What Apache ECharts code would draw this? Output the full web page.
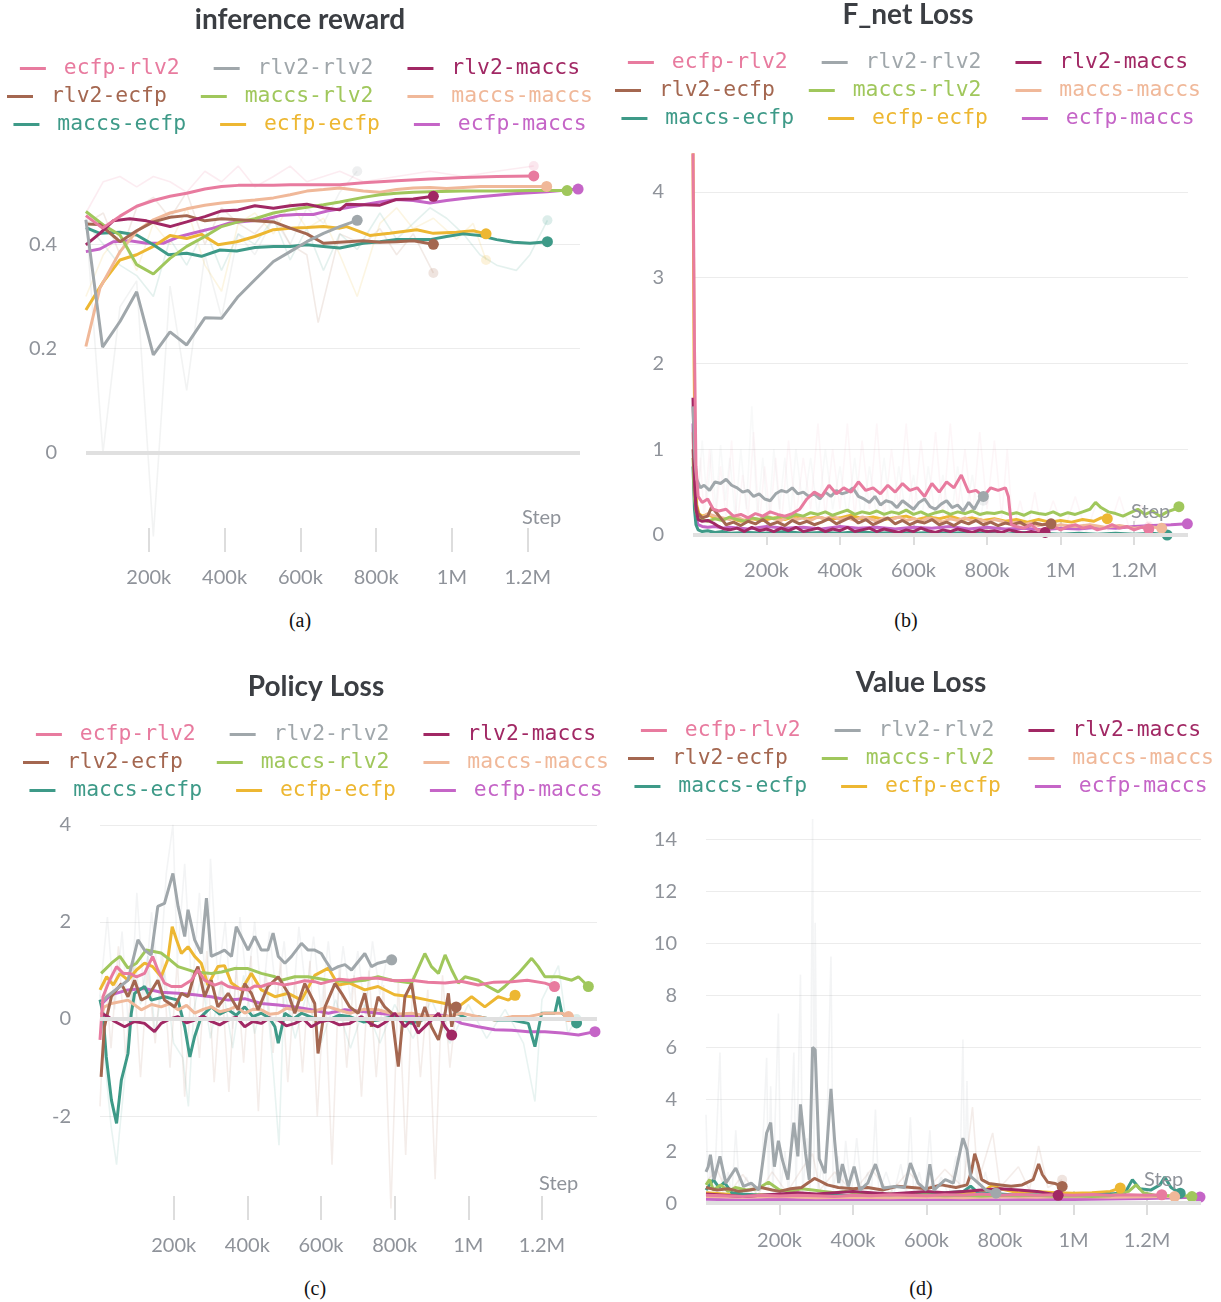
<!DOCTYPE html>
<html>
<head>
<meta charset="utf-8">
<script src="https://cdn.jsdelivr.net/npm/echarts@6/dist/echarts.min.js"></script>
<style>
    body { margin: 0; background: #fff; width: 1221px; height: 1302px; position: relative; overflow: hidden; }
    .echarts { position: absolute; }
    .cap { position: absolute; font-family: 'Liberation Serif', serif; font-size: 20px; color: #111; transform: translateX(-50%); }
</style>
</head>
<body>
<div id="reward" class="echarts" style="left:0;top:0;width:600px;height:600px"></div>
<div id="fnet" class="echarts" style="left:610px;top:0;width:596px;height:600px"></div>
<div id="policy" class="echarts" style="left:6px;top:660px;width:620px;height:600px"></div>
<div id="value" class="echarts" style="left:626px;top:660px;width:590px;height:600px"></div>
<div class="cap" style="left:300px;top:609px">(a)</div>
<div class="cap" style="left:906px;top:609px">(b)</div>
<div class="cap" style="left:315px;top:1277px">(c)</div>
<div class="cap" style="left:921px;top:1277px">(d)</div>

<script>
// runs, in legend order
const runNames = ['ecfp-rlv2', 'rlv2-rlv2', 'rlv2-maccs', 'rlv2-ecfp', 'maccs-rlv2', 'maccs-maccs', 'maccs-ecfp', 'ecfp-ecfp', 'ecfp-maccs'];
const runColors = ['#E87B9F', '#A0A7AB', '#A12864', '#A46750', '#A0C75C', '#F0B899', '#3E9A88', '#EDB732', '#C565C7'];

// x axis ticks (steps in thousands)
const stepTicks = [200, 400, 600, 800, 1000, 1200];
const stepLabels = ['200k', '400k', '600k', '800k', '1M', '1.2M'];

const rewardTicks = [0, 0.2, 0.4];
const fnetTicks = [0, 1, 2, 3, 4];
const policyTicks = [-2, 0, 2, 4];
const valueTicks = [0, 2, 4, 6, 8, 10, 12, 14];

// ---- (a) inference reward, [step k, value] ----
const rewardEcfpRlv2 = [[34,0.455],[78,0.431],[124,0.454],[168,0.473],[212,0.484],[256,0.492],[300,0.498],[348,0.506],[392,0.511],[436,0.513],[480,0.513],[529,0.513],[573,0.514],[617,0.514],[661,0.514],[704,0.514],[766,0.518],[854,0.522],[942,0.525],[1030,0.528],[1118,0.530],[1216,0.531]];
const rewardRlv2Rlv2 = [[34,0.447],[78,0.203],[124,0.252],[168,0.309],[212,0.188],[256,0.232],[300,0.207],[348,0.259],[392,0.258],[436,0.300],[480,0.332],[529,0.367],[573,0.386],[617,0.405],[661,0.421],[704,0.434],[750,0.446]];
const rewardRlv2Maccs = [[34,0.399],[71,0.421],[106,0.445],[150,0.449],[194,0.445],[256,0.434],[300,0.443],[348,0.453],[392,0.464],[436,0.466],[480,0.474],[529,0.469],[573,0.474],[617,0.477],[661,0.470],[704,0.466],[722,0.477],[766,0.476],[810,0.475],[854,0.486],[898,0.487],[951,0.492]];
const rewardRlv2Ecfp = [[34,0.439],[71,0.438],[124,0.405],[168,0.426],[212,0.443],[256,0.452],[300,0.455],[348,0.445],[392,0.449],[436,0.447],[480,0.445],[529,0.443],[573,0.431],[617,0.420],[661,0.402],[704,0.404],[766,0.407],[810,0.404],[854,0.405],[898,0.407],[951,0.400]];
const rewardMaccsRlv2 = [[34,0.463],[80,0.437],[124,0.418],[168,0.361],[212,0.343],[256,0.373],[300,0.396],[348,0.415],[392,0.434],[436,0.443],[480,0.449],[529,0.460],[573,0.466],[617,0.471],[661,0.476],[704,0.481],[766,0.490],[810,0.495],[854,0.498],[898,0.500],[942,0.501],[1030,0.502],[1118,0.502],[1206,0.503],[1304,0.503]];
const rewardMaccsMaccs = [[34,0.204],[71,0.316],[124,0.386],[168,0.425],[212,0.447],[256,0.460],[300,0.468],[348,0.475],[392,0.479],[436,0.482],[480,0.485],[529,0.489],[573,0.495],[617,0.502],[661,0.505],[704,0.508],[766,0.502],[810,0.500],[854,0.505],[898,0.508],[942,0.509],[986,0.507],[1030,0.509],[1074,0.511],[1162,0.511],[1250,0.511]];
const rewardMaccsEcfp = [[34,0.432],[71,0.421],[124,0.423],[168,0.418],[212,0.399],[252,0.380],[300,0.383],[339,0.377],[388,0.389],[432,0.387],[480,0.394],[529,0.396],[573,0.396],[617,0.399],[661,0.396],[704,0.393],[766,0.402],[810,0.405],[854,0.409],[898,0.409],[942,0.409],[986,0.415],[1030,0.420],[1074,0.417],[1118,0.409],[1162,0.404],[1206,0.402],[1252,0.405]];
const rewardEcfpEcfp = [[34,0.274],[80,0.328],[124,0.370],[168,0.380],[212,0.396],[256,0.417],[300,0.411],[339,0.419],[383,0.399],[432,0.405],[480,0.415],[529,0.428],[573,0.431],[617,0.432],[661,0.434],[704,0.431],[722,0.434],[783,0.417],[836,0.421],[907,0.428],[951,0.421],[1012,0.423],[1056,0.426],[1090,0.420]];
const rewardEcfpMaccs = [[34,0.386],[71,0.391],[106,0.405],[150,0.407],[194,0.402],[238,0.402],[282,0.415],[326,0.423],[370,0.431],[414,0.441],[458,0.444],[502,0.447],[546,0.455],[590,0.457],[634,0.457],[678,0.465],[722,0.470],[766,0.476],[810,0.481],[854,0.486],[898,0.484],[942,0.479],[986,0.484],[1030,0.488],[1074,0.491],[1118,0.494],[1162,0.497],[1206,0.499],[1250,0.501],[1333,0.506]];
// unsmoothed runs (faint)
const rewardRawEcfpRlv2 = [[34,0.46],[80,0.52],[124,0.53],[168,0.51],[212,0.53],[256,0.52],[300,0.50],[348,0.54],[392,0.52],[436,0.55],[480,0.51],[529,0.53],[573,0.55],[617,0.52],[661,0.53],[704,0.54],[766,0.52],[854,0.53],[942,0.54],[1030,0.53],[1118,0.54],[1216,0.55]];
const rewardRawRlv2Rlv2 = [[34,0.45],[79,0.0],[124,0.28],[168,0.33],[212,-0.16],[256,0.32],[300,0.12],[348,0.38],[392,0.26],[436,0.42],[480,0.38],[529,0.45],[573,0.40],[617,0.47],[661,0.44],[704,0.50],[750,0.54]];
const rewardRawRlv2Ecfp = [[34,0.44],[80,0.46],[124,0.38],[168,0.47],[212,0.49],[256,0.45],[300,0.50],[348,0.40],[392,0.47],[436,0.44],[480,0.42],[529,0.46],[573,0.40],[617,0.38],[647,0.25],[704,0.42],[766,0.40],[810,0.43],[854,0.38],[898,0.42],[951,0.345]];
const rewardRawMaccsEcfp = [[34,0.44],[80,0.40],[124,0.36],[168,0.34],[212,0.30],[256,0.41],[300,0.36],[348,0.43],[392,0.35],[436,0.42],[480,0.40],[529,0.45],[573,0.37],[617,0.43],[661,0.35],[704,0.42],[750,0.39],[810,0.46],[854,0.41],[898,0.44],[942,0.47],[986,0.45],[1030,0.42],[1074,0.38],[1118,0.36],[1170,0.35],[1206,0.38],[1252,0.446]];
const rewardRawEcfpEcfp = [[34,0.30],[80,0.38],[124,0.42],[168,0.35],[212,0.44],[256,0.40],[300,0.47],[348,0.36],[392,0.31],[436,0.44],[480,0.46],[529,0.42],[573,0.48],[617,0.43],[661,0.45],[704,0.38],[750,0.30],[810,0.44],[854,0.47],[898,0.43],[951,0.45],[1012,0.41],[1056,0.44],[1090,0.37]];

// ---- (b) F_net loss ----
const fnetEcfpRlv2 = [[0,4.45],[4,2.2],[8,0.8],[14,0.45],[25,0.38],[40,0.42],[55,0.30],[70,0.28],[90,0.30],[110,0.22],[130,0.24],[150,0.20],[170,0.25],[190,0.22],[210,0.27],[230,0.24],[250,0.22],[270,0.25],[290,0.30],[310,0.42],[330,0.50],[350,0.45],[370,0.58],[390,0.48],[410,0.55],[430,0.50],[450,0.62],[470,0.52],[490,0.55],[510,0.48],[530,0.58],[550,0.50],[570,0.60],[590,0.52],[610,0.55],[630,0.45],[650,0.60],[670,0.50],[690,0.62],[710,0.55],[730,0.70],[750,0.50],[770,0.52],[790,0.45],[810,0.55],[830,0.52],[850,0.55],[858,0.45],[866,0.12],[880,0.10],[900,0.08],[920,0.12],[940,0.05],[960,0.08],[980,0.10],[1000,0.06],[1020,0.10],[1040,0.12],[1060,0.08],[1080,0.10],[1100,0.06],[1120,0.08],[1140,0.12],[1160,0.08],[1180,0.10],[1200,0.06],[1220,0.09],[1240,0.07]];
const fnetRlv2Rlv2 = [[0,1.5],[5,0.9],[10,0.65],[20,0.55],[30,0.58],[45,0.52],[60,0.62],[75,0.60],[90,0.65],[105,0.58],[120,0.55],[135,0.50],[150,0.52],[165,0.45],[180,0.48],[195,0.42],[210,0.40],[225,0.48],[240,0.52],[255,0.50],[270,0.55],[285,0.48],[300,0.50],[315,0.45],[330,0.48],[345,0.42],[360,0.50],[375,0.45],[390,0.52],[405,0.48],[420,0.50],[435,0.55],[450,0.45],[465,0.42],[480,0.38],[495,0.45],[510,0.35],[525,0.40],[540,0.38],[555,0.32],[570,0.40],[585,0.35],[600,0.30],[615,0.38],[630,0.42],[645,0.33],[660,0.30],[675,0.36],[690,0.40],[705,0.32],[720,0.35],[735,0.28],[750,0.38],[765,0.30],[780,0.42],[790,0.45]];
const fnetRlv2Maccs = [[0,1.6],[4,0.7],[8,0.3],[14,0.18],[25,0.16],[40,0.17],[55,0.14],[70,0.10],[85,0.07],[100,0.06],[120,0.08],[140,0.04],[160,0.09],[180,0.05],[200,0.07],[220,0.04],[240,0.08],[260,0.05],[280,0.09],[300,0.04],[320,0.06],[340,0.08],[360,0.04],[380,0.07],[400,0.05],[420,0.09],[440,0.04],[460,0.06],[480,0.08],[500,0.04],[520,0.07],[540,0.05],[560,0.03],[580,0.06],[600,0.04],[620,0.08],[640,0.05],[660,0.03],[680,0.06],[700,0.04],[720,0.07],[740,0.05],[760,0.03],[780,0.06],[800,0.04],[820,0.05],[840,0.03],[860,0.06],[880,0.04],[900,0.02],[920,0.04],[940,0.02],[958,0.03]];
const fnetRlv2Ecfp = [[0,1.0],[4,0.6],[8,0.35],[14,0.25],[25,0.2],[40,0.22],[50,0.32],[60,0.28],[75,0.2],[90,0.12],[110,0.15],[130,0.11],[150,0.16],[170,0.13],[190,0.18],[210,0.12],[230,0.15],[250,0.11],[270,0.17],[290,0.13],[310,0.16],[330,0.12],[350,0.15],[370,0.19],[390,0.13],[410,0.17],[430,0.21],[450,0.14],[470,0.18],[490,0.12],[510,0.16],[530,0.20],[550,0.13],[570,0.17],[590,0.12],[610,0.16],[630,0.14],[650,0.18],[670,0.12],[690,0.15],[710,0.11],[730,0.16],[750,0.13],[770,0.17],[790,0.12],[810,0.15],[830,0.11],[850,0.14],[870,0.12],[890,0.15],[910,0.10],[930,0.14],[950,0.12],[974,0.13]];
const fnetMaccsRlv2 = [[0,0.9],[4,0.45],[8,0.28],[14,0.2],[25,0.18],[40,0.16],[60,0.19],[80,0.17],[100,0.21],[120,0.18],[140,0.16],[160,0.2],[180,0.18],[200,0.21],[220,0.19],[240,0.22],[260,0.2],[280,0.24],[300,0.22],[320,0.26],[340,0.24],[360,0.27],[380,0.23],[400,0.26],[420,0.29],[440,0.24],[460,0.27],[480,0.25],[500,0.28],[520,0.24],[540,0.27],[560,0.25],[580,0.29],[600,0.24],[620,0.27],[640,0.23],[660,0.26],[680,0.28],[700,0.24],[720,0.27],[740,0.25],[760,0.28],[780,0.24],[800,0.26],[820,0.25],[840,0.27],[860,0.24],[880,0.26],[900,0.23],[920,0.27],[940,0.25],[960,0.24],[980,0.27],[1000,0.23],[1020,0.26],[1040,0.24],[1060,0.27],[1080,0.3],[1095,0.38],[1110,0.32],[1130,0.27],[1150,0.25],[1170,0.22],[1190,0.26],[1210,0.3],[1230,0.24],[1250,0.28],[1270,0.22],[1290,0.27],[1310,0.3],[1322,0.33]];
const fnetMaccsMaccs = [[0,1.2],[4,0.5],[8,0.3],[14,0.22],[25,0.2],[40,0.25],[60,0.22],[80,0.2],[100,0.18],[120,0.21],[140,0.17],[160,0.2],[180,0.18],[200,0.22],[220,0.19],[240,0.17],[260,0.21],[280,0.18],[300,0.2],[320,0.17],[340,0.21],[360,0.19],[380,0.22],[400,0.18],[420,0.2],[440,0.17],[460,0.21],[480,0.19],[500,0.16],[520,0.2],[540,0.18],[560,0.21],[580,0.17],[600,0.19],[620,0.16],[640,0.2],[660,0.18],[680,0.15],[700,0.19],[720,0.17],[740,0.2],[760,0.16],[780,0.18],[800,0.15],[820,0.18],[840,0.16],[860,0.13],[880,0.15],[900,0.12],[920,0.14],[940,0.11],[960,0.13],[980,0.1],[1000,0.12],[1040,0.1],[1080,0.12],[1120,0.09],[1160,0.11],[1200,0.08],[1240,0.1],[1275,0.08]];
const fnetMaccsEcfp = [[0,0.8],[4,0.3],[8,0.12],[14,0.06],[25,0.04],[40,0.05],[60,0.03],[80,0.04],[100,0.02],[150,0.03],[200,0.02],[250,0.04],[300,0.02],[350,0.03],[400,0.02],[450,0.04],[500,0.02],[550,0.03],[600,0.02],[650,0.03],[700,0.02],[750,0.03],[800,0.02],[850,0.01],[900,0.03],[950,0.02],[1000,0.01],[1050,0.02],[1100,0.01],[1150,0.02],[1200,0.01],[1250,0.02],[1290,0.0]];
const fnetEcfpEcfp = [[0,4.45],[3,2.0],[6,0.7],[10,0.35],[16,0.25],[25,0.22],[40,0.24],[60,0.2],[80,0.18],[100,0.2],[130,0.16],[160,0.19],[190,0.17],[220,0.2],[250,0.18],[280,0.22],[310,0.19],[340,0.21],[370,0.18],[400,0.2],[430,0.23],[460,0.19],[490,0.21],[520,0.18],[550,0.2],[580,0.22],[610,0.18],[640,0.21],[670,0.19],[700,0.22],[730,0.18],[760,0.2],[790,0.17],[820,0.19],[850,0.16],[880,0.18],[910,0.15],[940,0.18],[970,0.15],[1000,0.17],[1030,0.15],[1060,0.18],[1090,0.16],[1110,0.2],[1127,0.19]];
const fnetEcfpMaccs = [[0,1.3],[4,0.5],[8,0.2],[14,0.12],[25,0.1],[40,0.09],[60,0.1],[80,0.08],[100,0.09],[150,0.07],[200,0.1],[250,0.08],[300,0.09],[350,0.07],[400,0.1],[450,0.08],[500,0.09],[550,0.07],[600,0.09],[650,0.08],[700,0.1],[750,0.07],[800,0.09],[850,0.07],[900,0.08],[950,0.06],[1000,0.08],[1050,0.07],[1100,0.09],[1150,0.08],[1200,0.1],[1250,0.11],[1300,0.12],[1345,0.13]];
const fnetRawEcfpRlv2 = [[0,4.4],[10,0.3],[20,0.9],[30,0.2],[45,1.0],[60,0.1],[75,0.8],[90,0.2],[105,1.1],[120,0.1],[135,0.7],[150,0.2],[165,1.2],[180,0.1],[195,0.8],[210,0.2],[225,0.9],[240,0.1],[260,1.1],[280,0.2],[300,0.9],[320,0.3],[340,1.3],[360,0.2],[380,1.0],[400,0.3],[420,1.3],[440,0.2],[460,1.1],[480,0.3],[500,1.3],[520,0.2],[540,1.0],[560,0.3],[580,1.3],[600,0.2],[620,1.1],[640,0.3],[660,1.2],[680,0.2],[700,1.3],[720,0.3],[740,1.0],[760,0.2],[780,1.2],[800,0.3],[820,1.1],[840,0.2],[855,1.0],[870,0.05],[890,0.4],[910,0.05],[930,0.5],[950,0.02],[980,0.4],[1010,0.05],[1040,0.45],[1070,0.03],[1100,0.4],[1130,0.05],[1160,0.45],[1190,0.04],[1220,0.35],[1240,0.1]];
const fnetRawRlv2Rlv2 = [[0,1.5],[12,0.3],[25,1.1],[38,0.4],[50,1.0],[62,0.3],[75,1.05],[88,0.4],[100,0.9],[115,0.2],[130,1.0],[145,0.3],[160,1.5],[175,0.2],[190,0.9],[205,0.1],[220,1.0],[235,0.3],[250,0.9],[265,0.2],[280,1.0],[300,0.3],[320,0.9],[340,0.2],[360,1.0],[380,0.3],[400,0.8],[420,0.2],[440,0.9],[460,0.1],[480,0.8],[500,0.2],[520,0.9],[540,0.1],[560,0.8],[580,0.2],[600,0.7],[620,0.1],[640,0.8],[660,0.2],[680,0.7],[700,0.1],[720,0.8],[740,0.2],[760,0.7],[780,0.1],[790,0.4]];

// ---- (c) policy loss ----
const policyEcfpRlv2 = [[0,-0.43],[8,0.46],[26,0.80],[45,1.08],[63,0.94],[81,0.94],[99,0.87],[121,0.94],[143,1.29],[157,1.01],[175,0.74],[194,0.67],[221,0.67],[248,0.80],[266,1.01],[284,0.80],[311,0.70],[330,0.75],[348,0.67],[375,0.63],[402,0.60],[420,0.68],[438,0.67],[456,0.72],[475,0.74],[500,0.70],[529,0.74],[556,0.79],[583,0.77],[600,0.73],[620,0.77],[650,0.82],[678,0.80],[710,0.84],[755,0.84],[800,0.79],[846,0.80],[890,0.76],[937,0.74],[980,0.78],[1027,0.70],[1070,0.76],[1118,0.77],[1160,0.80],[1208,0.74],[1234,0.67]];
const policyRlv2Rlv2 = [[3,0.32],[18,0.46],[54,0.67],[76,0.80],[103,1.63],[121,1.42],[139,1.32],[157,2.32],[175,2.38],[198,3.00],[212,2.32],[230,1.70],[239,2.25],[257,1.63],[275,1.35],[289,2.49],[302,1.29],[320,1.35],[338,1.42],[357,1.29],[370,1.90],[388,1.63],[402,1.42],[420,1.70],[438,1.42],[456,1.42],[470,1.77],[484,1.29],[502,1.15],[520,1.29],[547,1.56],[565,1.42],[583,1.42],[601,1.35],[611,1.22],[629,1.01],[647,1.08],[665,1.12],[683,1.01],[719,1.35],[737,1.08],[755,1.15],[792,1.22]];
const policyRlv2Maccs = [[3,0.12],[21,0.05],[40,-0.05],[67,-0.16],[94,-0.05],[121,-0.09],[148,-0.26],[166,-0.09],[190,0.0],[212,0.05],[235,-0.08],[257,-0.02],[280,0.06],[302,-0.05],[325,-0.12],[348,-0.02],[370,0.04],[393,-0.16],[415,-0.05],[438,-0.09],[460,0.02],[484,-0.02],[506,-0.14],[529,-0.09],[552,0.0],[574,-0.16],[597,-0.06],[620,-0.02],[650,-0.12],[678,-0.09],[710,0.05],[735,-0.1],[755,-0.16],[780,-0.04],[800,0.12],[828,-0.16],[846,-0.02],[864,-0.29],[891,-0.09],[919,0.12],[937,-0.16],[955,-0.33]];
const policyRlv2Ecfp = [[3,-1.19],[12,-0.16],[31,0.46],[58,0.73],[76,0.46],[94,0.80],[112,0.39],[130,0.46],[157,0.80],[175,0.39],[203,0.25],[221,0.53],[239,0.46],[257,0.94],[266,1.08],[284,0.46],[302,0.80],[320,0.25],[348,0.53],[375,0.19],[393,0.73],[411,0.53],[429,0.19],[456,0.67],[484,0.87],[511,0.53],[529,0.12],[556,0.73],[583,0.32],[592,-0.71],[611,0.25],[638,0.73],[656,0.53],[678,0.25],[701,0.12],[719,0.53],[737,-0.16],[755,0.46],[773,0.25],[792,0.12],[810,-0.98],[828,0.46],[846,0.73],[864,-0.16],[882,0.25],[900,-0.16],[919,-0.43],[937,0.12],[946,0.53],[955,-0.16],[967,0.25]];
const policyMaccsRlv2 = [[3,0.94],[31,1.15],[54,1.29],[76,1.05],[99,1.15],[125,1.42],[166,1.36],[190,1.22],[212,1.08],[257,0.97],[302,0.94],[330,0.97],[366,1.04],[402,1.04],[438,0.94],[475,0.87],[493,0.80],[529,0.87],[565,0.87],[620,0.80],[678,0.77],[719,0.80],[755,0.87],[792,0.80],[846,0.74],[882,1.35],[900,1.08],[919,0.94],[937,1.32],[955,1.01],[973,0.74],[991,0.87],[1027,0.80],[1054,0.67],[1081,0.56],[1099,0.67],[1136,0.94],[1172,1.25],[1190,1.08],[1208,0.87],[1245,0.87],[1281,0.80],[1299,0.87],[1326,0.67]];
const policyMaccsMaccs = [[3,0.1],[12,0.25],[31,0.32],[76,0.39],[112,0.19],[140,0.3],[166,0.25],[190,0.32],[212,0.19],[235,0.28],[257,0.12],[280,0.2],[302,0.25],[325,0.15],[348,0.19],[370,0.26],[393,0.12],[415,0.2],[438,0.19],[460,0.1],[484,0.12],[506,0.22],[529,0.19],[575,0.15],[620,0.25],[650,0.18],[678,0.12],[715,0.2],[755,0.19],[800,0.1],[846,0.12],[890,0.06],[937,0.05],[982,0.12],[1027,0.05],[1072,-0.02],[1118,0.05],[1163,0.05],[1208,0.12],[1254,0.12],[1272,0.05]];
const policyMaccsEcfp = [[0,0.4],[8,0.12],[17,-0.78],[31,-1.67],[45,-2.15],[58,-1.26],[76,-0.71],[85,0.12],[94,0.53],[121,0.67],[139,0.39],[175,0.46],[212,0.39],[230,-0.16],[244,-0.78],[257,-0.36],[275,0.05],[302,0.25],[325,0.1],[348,0.19],[370,0.08],[393,0.25],[415,0.05],[438,0.12],[460,0.02],[475,-0.16],[484,-0.50],[502,0.12],[525,0.0],[547,0.12],[580,0.02],[620,-0.02],[650,0.08],[678,0.05],[715,-0.06],[755,-0.02],[800,0.06],[846,-0.09],[890,0.02],[937,-0.02],[967,0.12],[1000,0.0],[1027,0.05],[1072,-0.02],[1118,-0.02],[1163,-0.09],[1181,-0.57],[1199,0.12],[1235,0.12],[1245,0.46],[1254,0.12],[1294,-0.08]];
const policyEcfpEcfp = [[0,0.60],[18,0.87],[36,0.70],[54,0.94],[76,0.80],[99,1.01],[121,1.15],[143,1.08],[166,0.87],[184,1.22],[196,1.90],[208,1.63],[221,1.35],[239,1.49],[257,1.29],[275,1.15],[293,0.70],[320,1.08],[338,1.10],[357,0.74],[384,0.60],[411,0.94],[438,0.60],[475,0.46],[511,0.53],[547,0.39],[583,0.90],[620,1.05],[647,0.70],[678,0.74],[719,0.60],[755,0.67],[800,0.50],[846,0.46],[891,0.39],[937,0.32],[973,0.25],[1009,0.46],[1045,0.25],[1081,0.46],[1109,0.39],[1127,0.49]];
const policyEcfpMaccs = [[3,0.3],[30,0.5],[76,0.6],[121,0.63],[166,0.55],[212,0.53],[257,0.50],[302,0.46],[348,0.39],[393,0.42],[438,0.32],[484,0.29],[529,0.25],[574,0.19],[620,0.12],[665,0.19],[720,0.15],[755,0.12],[846,0.05],[937,0.08],[982,-0.09],[1027,-0.16],[1072,-0.22],[1118,-0.23],[1163,-0.26],[1208,-0.26],[1254,-0.29],[1299,-0.33],[1344,-0.26]];
const policyRawRlv2Rlv2 = [[0,0.5],[20,2.1],[40,0.2],[60,1.8],[80,-0.5],[100,2.6],[120,0.4],[140,2.2],[160,0.6],[180,3.0],[198,4.0],[210,1.2],[230,3.2],[250,0.5],[270,2.6],[290,0.3],[300,3.3],[320,0.8],[340,2.0],[360,-0.2],[380,2.1],[400,0.6],[420,2.0],[440,0.3],[460,1.8],[480,0.4],[500,1.6],[520,-0.1],[540,1.9],[560,0.5],[580,1.7],[600,0.2],[620,1.6],[640,0.0],[660,1.5],[680,0.4],[700,1.4],[720,0.1],[740,1.6],[760,0.5],[780,1.3],[792,1.2]];
const policyRawMaccsEcfp = [[0,0.5],[15,-1.0],[30,-2.2],[45,-3.0],[52,-2.4],[65,-1.4],[80,-0.2],[95,1.2],[110,0.3],[130,1.3],[150,-0.3],[175,1.0],[200,-0.5],[225,-0.8],[240,-1.8],[255,0.2],[275,0.9],[300,-0.4],[330,0.8],[360,-0.6],[390,0.9],[420,-0.3],[450,0.7],[470,-1.0],[486,-2.6],[500,0.6],[530,-0.4],[560,0.5],[600,-0.5],[640,0.4],[680,-0.6],[720,0.3],[760,-0.5],[800,0.3],[850,-0.4],[900,0.4],[950,-0.5],[1000,0.3],[1050,-0.4],[1100,0.2],[1150,-0.5],[1181,-1.7],[1200,0.4],[1245,1.1],[1270,-0.3],[1294,0.0]];
const policyRawRlv2Ecfp = [[0,-1.8],[15,0.8],[30,-0.6],[50,1.5],[70,-0.8],[90,1.2],[110,-1.2],[130,1.0],[150,-0.5],[170,1.3],[190,-1.0],[210,1.2],[230,-1.6],[250,1.0],[270,-0.8],[290,1.4],[310,-1.3],[330,0.8],[350,-1.5],[370,1.1],[390,-0.9],[410,1.3],[430,-1.9],[450,1.0],[470,-0.7],[490,1.2],[510,-1.3],[530,0.9],[550,-1.1],[570,1.2],[590,-2.0],[610,0.8],[630,-3.0],[650,1.1],[670,-1.0],[690,0.9],[710,-1.6],[730,1.0],[750,-1.2],[770,0.7],[790,-3.9],[810,0.8],[830,-2.8],[850,0.9],[870,-1.2],[890,0.6],[910,-3.3],[930,0.9],[950,-1.0],[967,0.2]];

// ---- (d) value loss ----
const valueEcfpRlv2 = [[0,0.3],[50,0.28],[100,0.25],[150,0.3],[200,0.27],[250,0.3],[300,0.28],[350,0.25],[400,0.3],[450,0.28],[500,0.32],[550,0.3],[600,0.28],[650,0.32],[700,0.3],[750,0.35],[800,0.3],[850,0.33],[900,0.3],[950,0.32],[1000,0.3],[1050,0.33],[1100,0.3],[1150,0.32],[1200,0.3],[1240,0.32]];
const valueRlv2Rlv2 = [[0,1.2],[6,1.4],[12,1.86],[22,0.9],[38,1.8],[54,0.77],[81,1.35],[102,0.64],[123,0.77],[144,0.5],[165,2.7],[176,3.1],[186,1.4],[197,2.4],[207,1.7],[223,0.9],[239,3.1],[250,1.8],[257,3.8],[271,1.9],[281,0.9],[290,6.0],[297,5.9],[308,1.7],[324,1.15],[340,4.4],[350,2.4],[361,0.77],[371,1.5],[387,0.64],[403,1.4],[419,0.5],[440,0.77],[461,1.5],[482,0.58],[514,0.64],[540,0.6],[556,1.54],[577,0.77],[599,0.5],[609,1.5],[620,0.5],[651,0.9],[673,0.77],[699,2.5],[710,2.05],[720,1.03],[741,0.77],[762,0.5],[789,0.38]];
const valueRlv2Maccs = [[0,0.35],[50,0.3],[100,0.25],[150,0.3],[200,0.35],[250,0.4],[300,0.35],[350,0.4],[400,0.45],[450,0.4],[500,0.35],[550,0.4],[600,0.45],[650,0.4],[700,0.45],[750,0.5],[800,0.55],[850,0.5],[900,0.45],[958,0.3]];
const valueRlv2Ecfp = [[0,0.6],[30,0.5],[60,0.55],[90,0.45],[120,0.5],[150,0.6],[180,0.5],[200,0.45],[230,0.55],[260,0.6],[280,0.8],[295,0.95],[310,0.85],[330,0.7],[360,0.6],[400,0.55],[440,0.6],[480,0.5],[520,0.65],[560,0.6],[600,0.55],[640,0.7],[680,0.6],[710,0.7],[722,1.2],[731,1.9],[740,1.5],[750,0.9],[770,0.75],[800,0.7],[830,0.65],[860,0.7],[890,0.9],[905,1.5],[915,1.1],[930,0.8],[950,0.75],[969,0.64]];
const valueMaccsRlv2 = [[0,0.7],[10,0.9],[20,0.5],[40,0.7],[60,0.45],[80,0.6],[110,0.5],[140,0.55],[170,0.8],[200,0.5],[230,0.45],[260,0.55],[290,0.5],[320,0.45],[350,0.4],[380,0.45],[420,0.35],[460,0.3],[500,0.35],[550,0.3],[600,0.32],[650,0.28],[700,0.3],[750,0.27],[800,0.3],[850,0.28],[900,0.3],[950,0.26],[1000,0.28],[1050,0.25],[1100,0.28],[1150,0.45],[1170,0.7],[1190,0.4],[1220,0.3],[1260,0.28],[1290,0.3],[1322,0.25]];
const valueMaccsMaccs = [[0,0.25],[100,0.22],[200,0.25],[300,0.2],[400,0.22],[500,0.2],[600,0.23],[700,0.2],[800,0.24],[900,0.22],[1000,0.25],[1100,0.22],[1200,0.24],[1275,0.25]];
const valueMaccsEcfp = [[0,0.5],[20,0.9],[35,0.6],[50,0.8],[70,0.4],[100,0.35],[150,0.3],[200,0.32],[250,0.3],[300,0.28],[350,0.3],[400,0.27],[450,0.3],[500,0.28],[550,0.3],[600,0.35],[650,0.4],[700,0.45],[720,0.65],[740,0.4],[800,0.35],[850,0.3],[900,0.32],[950,0.3],[1000,0.28],[1050,0.3],[1100,0.35],[1140,0.4],[1160,0.9],[1180,0.55],[1210,0.5],[1235,0.7],[1248,1.0],[1265,0.6],[1290,0.38]];
const valueEcfpEcfp = [[0,0.4],[50,0.35],[100,0.3],[150,0.32],[200,0.28],[250,0.3],[300,0.33],[350,0.3],[400,0.28],[450,0.3],[500,0.32],[550,0.3],[600,0.35],[650,0.3],[700,0.35],[750,0.4],[780,0.7],[800,0.55],[850,0.4],[900,0.45],[950,0.4],[1000,0.38],[1050,0.4],[1100,0.45],[1127,0.58]];
const valueEcfpMaccs = [[0,0.15],[100,0.12],[200,0.15],[300,0.12],[400,0.1],[500,0.13],[600,0.12],[700,0.14],[800,0.12],[900,0.15],[1000,0.14],[1100,0.16],[1200,0.18],[1280,0.2],[1344,0.23]];
const valueRawRlv2Rlv2 = [[0,3.4],[6,0.3],[12,1.5],[22,0.2],[38,5.8],[46,0.3],[60,1.2],[70,0.2],[81,2.8],[92,0.3],[110,1.0],[130,0.2],[150,0.9],[165,5.6],[170,0.5],[176,4.5],[182,0.4],[197,7.3],[203,0.5],[215,2.0],[225,0.3],[239,5.8],[245,0.4],[257,8.8],[263,0.4],[275,2.5],[283,0.3],[290,14.8],[294,1.0],[297,10.8],[304,0.4],[315,1.5],[325,0.3],[340,9.5],[346,0.5],[360,1.8],[370,0.3],[380,2.4],[395,0.3],[410,2.5],[425,0.4],[440,1.2],[450,0.3],[461,3.6],[470,0.4],[490,1.2],[510,0.3],[530,1.5],[545,0.3],[556,3.3],[565,0.4],[580,1.2],[595,0.3],[609,2.8],[620,0.3],[640,1.0],[660,0.3],[680,1.8],[690,0.4],[699,6.3],[704,0.6],[710,4.7],[716,0.5],[730,1.5],[745,0.3],[760,1.2],[775,0.3],[789,0.5]];
const valueRawRlv2Ecfp = [[0,0.8],[30,1.3],[60,0.3],[100,1.1],[140,0.3],[180,1.2],[220,0.4],[260,1.3],[290,1.9],[310,0.5],[350,1.2],[400,0.4],[450,1.3],[500,0.4],[550,1.2],[600,0.5],[650,1.3],[700,0.6],[725,3.7],[740,0.8],[780,2.7],[800,0.6],[850,1.4],[880,0.5],[905,2.2],[930,0.6],[969,0.9]];

const SMOOTH_ORDER = [8, 7, 6, 5, 4, 3, 2, 1, 0];

function stepLabel(v) {
    const i = stepTicks.indexOf(v);
    return i >= 0 ? stepLabels[i] : '';
}

function buildChart(p) {
    const chart = echarts.init(document.getElementById(p.id));
    const series = [];
    // zero reference line
    series.push({
        type: 'line', data: [], silent: true, z: 0,
        markLine: {
            silent: true, symbol: 'none', label: {show: false},
            lineStyle: {color: '#e0e0e0', width: 4, type: 'solid'},
            data: [{yAxis: 0}]
        }
    });
    p.raws.forEach(function (r) {
        const c = runColors[r.run];
        series.push({type: 'line', data: r.data, symbol: 'none', silent: true, z: 1,
            lineStyle: {color: c, width: 1.6, opacity: p.rawOpacity}});
        series.push({type: 'scatter', data: [r.data[r.data.length - 1]], symbolSize: 10, silent: true, z: 1,
            itemStyle: {color: c, opacity: 0.18}});
    });
    SMOOTH_ORDER.forEach(function (i, k) {
        const d = p.runs[i];
        const c = runColors[i];
        series.push({name: runNames[i], type: 'line', data: d, showSymbol: false, symbol: 'none', z: 3 + k * 0.01,
            lineStyle: {color: c, width: 3}, itemStyle: {color: c}});
        series.push({type: 'scatter', data: [d[d.length - 1]], symbolSize: 11, z: 4, silent: true,
            itemStyle: {color: c, opacity: 1}});
    });

    const legends = [0, 1, 2].map(function (r) {
        return {
            top: p.legendTop + r * 28, left: 'center', itemGap: 34, itemWidth: 26, itemHeight: 3,
            icon: 'rect', selectedMode: false, padding: 0,
            formatter: function (name) { return ' ' + name; },
            textStyle: {fontFamily: 'DejaVu Sans Mono', fontSize: 21.4},
            data: runNames.slice(r * 3, r * 3 + 3).map(function (n) {
                return {name: n, textStyle: {color: runColors[runNames.indexOf(n)]}};
            })
        };
    });

    chart.setOption({
        animation: false,
        title: {text: p.title, left: 'center', top: p.titleTop, padding: 0,
            textStyle: {fontFamily: 'Lato', fontWeight: 'bold', fontSize: 28, color: '#3b3e43'}},
        legend: legends,
        grid: p.grid,
        xAxis: {
            type: 'value', min: p.xMin, max: p.xMax,
            axisLine: {show: false, onZero: false}, splitLine: {show: false},
            axisTick: {inside: true, length: 24, customValues: stepTicks, lineStyle: {color: '#dddddd', width: 2}},
            axisLabel: {customValues: stepTicks, formatter: stepLabel, color: '#8f939a', fontSize: 20,
                fontFamily: 'Lato', margin: 16}
        },
        yAxis: {
            type: 'value', min: p.yMin, max: p.yMax,
            axisLine: {show: false},
            axisTick: {show: false, customValues: p.yTicks},
            axisLabel: {customValues: p.yTicks, color: '#8f939a', fontSize: 20, fontFamily: 'Lato', margin: 29,
                formatter: function (v) { return String(v); }},
            splitLine: {lineStyle: {color: '#ececec', width: 1}}
        },
        graphic: [{type: 'text', left: p.stepPos[0], top: p.stepPos[1], z: 100,
            style: {text: 'Step', fill: '#8f939a', font: '20px Lato'}}],
        series: series
    });
}

buildChart({
    id: 'reward', title: 'inference reward', titleTop: 6, legendTop: 58, rawOpacity: 0.14,
    grid: {left: 86, right: 20, top: 140, bottom: 48},
    xMin: 34.3, xMax: 1338, yMin: -0.19, yMax: 0.6, yTicks: rewardTicks, stepPos: [522, 508],
    runs: [rewardEcfpRlv2, rewardRlv2Rlv2, rewardRlv2Maccs, rewardRlv2Ecfp, rewardMaccsRlv2, rewardMaccsMaccs, rewardMaccsEcfp, rewardEcfpEcfp, rewardEcfpMaccs],
    raws: [{run: 0, data: rewardRawEcfpRlv2}, {run: 1, data: rewardRawRlv2Rlv2}, {run: 3, data: rewardRawRlv2Ecfp},
        {run: 6, data: rewardRawMaccsEcfp}, {run: 7, data: rewardRawEcfpEcfp}]
});
buildChart({
    id: 'fnet', title: 'F_net Loss', titleTop: 1, legendTop: 52, rawOpacity: 0.07,
    grid: {left: 83, right: 18, top: 140, bottom: 55},
    xMin: 0, xMax: 1346.7, yMin: -0.1166, yMax: 4.606, yTicks: fnetTicks, stepPos: [521, 502],
    runs: [fnetEcfpRlv2, fnetRlv2Rlv2, fnetRlv2Maccs, fnetRlv2Ecfp, fnetMaccsRlv2, fnetMaccsMaccs, fnetMaccsEcfp, fnetEcfpEcfp, fnetEcfpMaccs],
    raws: [{run: 0, data: fnetRawEcfpRlv2}, {run: 1, data: fnetRawRlv2Rlv2}]
});
buildChart({
    id: 'policy', title: 'Policy Loss', titleTop: 13, legendTop: 64, rawOpacity: 0.12,
    grid: {left: 94, right: 29, top: 160, bottom: 40},
    xMin: 0, xMax: 1349.5, yMin: -4.14, yMax: 4.1, yTicks: policyTicks, stepPos: [533, 514],
    runs: [policyEcfpRlv2, policyRlv2Rlv2, policyRlv2Maccs, policyRlv2Ecfp, policyMaccsRlv2, policyMaccsMaccs, policyMaccsEcfp, policyEcfpEcfp, policyEcfpMaccs],
    raws: [{run: 1, data: policyRawRlv2Rlv2}, {run: 6, data: policyRawMaccsEcfp}, {run: 3, data: policyRawRlv2Ecfp}]
});
buildChart({
    id: 'value', title: 'Value Loss', titleTop: 9, legendTop: 60, rawOpacity: 0.12,
    grid: {left: 80, right: 15, top: 155, bottom: 45},
    xMin: 0, xMax: 1346.7, yMin: -0.46, yMax: 14.95, yTicks: valueTicks, stepPos: [518, 510],
    runs: [valueEcfpRlv2, valueRlv2Rlv2, valueRlv2Maccs, valueRlv2Ecfp, valueMaccsRlv2, valueMaccsMaccs, valueMaccsEcfp, valueEcfpEcfp, valueEcfpMaccs],
    raws: [{run: 1, data: valueRawRlv2Rlv2}, {run: 3, data: valueRawRlv2Ecfp}]
});
</script>
</body>
</html>
